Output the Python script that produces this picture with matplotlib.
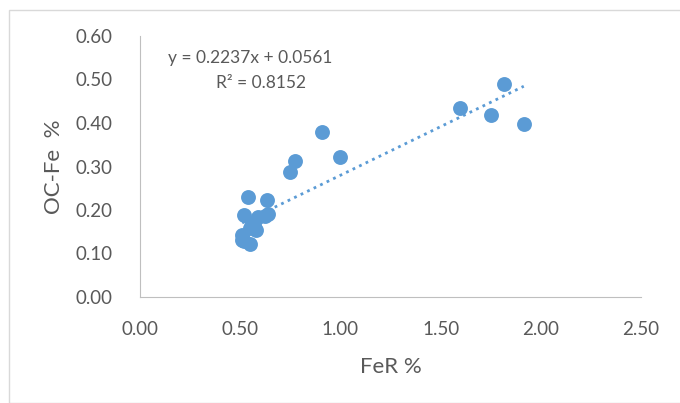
import matplotlib.pyplot as plt
from matplotlib.patches import Rectangle

fer = [1.595, 1.815, 1.75, 1.915, 0.91, 1.00, 0.775, 0.75,
       0.54, 0.635, 0.52, 0.64, 0.59, 0.625, 0.57, 0.58,
       0.55, 0.51, 0.52, 0.55, 0.51, 0.56]
ocfe = [0.435, 0.49, 0.418, 0.398, 0.38, 0.322, 0.312, 0.287,
        0.231, 0.224, 0.188, 0.19, 0.185, 0.187, 0.165, 0.155,
        0.158, 0.142, 0.128, 0.122, 0.132, 0.17]
slope, intercept = 0.2237, 0.0561
eq_text = "y = 0.2237x + 0.0561"
r2_text = "R² = 0.8152"

plt.rcParams['font.family'] = ['Lato', 'DejaVu Sans']
blue = '#5B9BD5'
grey = '#595959'

fig = plt.figure(figsize=(6.8, 4.03), dpi=100)
fig.patches.append(Rectangle((9 / 680, 0), 1, 1 - 10 / 403, transform=fig.transFigure,
                             fill=False, edgecolor='#D9D9D9', lw=1))
ax = fig.add_axes([140 / 680, 1 - 297 / 403, 501 / 680, 261 / 403])

ax.scatter(fer, ocfe, s=115, color=blue, zorder=3, linewidths=0)
x0, x1 = min(fer), max(fer)
ax.plot([x0, x1], [slope * x0 + intercept, slope * x1 + intercept],
        color=blue, lw=2, linestyle=(0, (1, 1.6)), zorder=2)

ax.set_xlim(0, 2.5)
ax.set_ylim(0, 0.6)
ax.set_xticks([0, 0.5, 1.0, 1.5, 2.0, 2.5])
ax.set_yticks([0, 0.1, 0.2, 0.3, 0.4, 0.5, 0.6])
ax.xaxis.set_major_formatter(lambda v, p: f"{v:.2f}")
ax.yaxis.set_major_formatter(lambda v, p: f"{v:.2f}")
ax.tick_params(length=0, labelsize=13.5, colors=grey)
ax.tick_params(axis='y', pad=20)
ax.tick_params(axis='x', pad=17)
for s in ['top', 'right']:
    ax.spines[s].set_visible(False)
for s in ['left', 'bottom']:
    ax.spines[s].set_color('#BFBFBF')

ax.set_xlabel("FeR %", fontsize=16, color=grey, labelpad=14)
ax.set_ylabel("OC-Fe  %", fontsize=16, color=grey, labelpad=8)

ax.text(0.14, 0.55, eq_text, fontsize=12.5, color=grey, va='center')
ax.text(0.38, 0.493, r2_text, fontsize=12.5, color=grey, va='center')

fig.savefig("out.png", dpi=100)
